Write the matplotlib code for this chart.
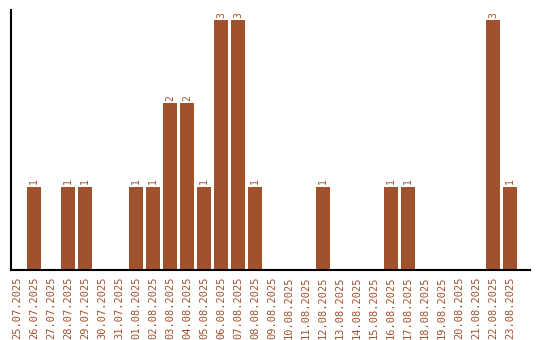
import matplotlib
matplotlib.use("Agg")
import matplotlib.pyplot as plt

dates = ["25.07.2025", "26.07.2025", "27.07.2025", "28.07.2025", "29.07.2025",
         "30.07.2025", "31.07.2025", "01.08.2025", "02.08.2025", "03.08.2025",
         "04.08.2025", "05.08.2025", "06.08.2025", "07.08.2025", "08.08.2025",
         "09.08.2025", "10.08.2025", "11.08.2025", "12.08.2025", "13.08.2025",
         "14.08.2025", "15.08.2025", "16.08.2025", "17.08.2025", "18.08.2025",
         "19.08.2025", "20.08.2025", "21.08.2025", "22.08.2025", "23.08.2025"]
counts = [0, 1, 0, 1, 1, 0, 0, 1, 1, 2, 2, 1, 3, 3, 1, 0, 0, 0, 1, 0,
          0, 0, 1, 1, 0, 0, 0, 0, 3, 1]

color = "#A0522D"
fig = plt.figure(figsize=(5.4, 3.4), dpi=100)
W, H = 540, 340
ax = fig.add_axes([11 / W, 1 - 270 / H, (530 - 11) / W, (270 - 10) / H])
x = list(range(len(dates)))
ax.bar(x, counts, width=0.82, color=color)
for xi, v in zip(x, counts):
    if v > 0:
        ax.text(xi, v + 0.03, str(v), rotation=90, ha="center", va="bottom",
                color=color, fontsize=7, family="DejaVu Sans Mono")
ax.set_xlim(-0.35, 30.18)
ax.set_ylim(0, 3.12)
ax.set_xticks(x)
ax.set_xticklabels(dates, rotation=90, color=color, fontsize=7.5,
                   family="DejaVu Sans Mono")
ax.tick_params(axis="x", length=0, pad=5)
ax.set_yticks([])
for s in ["top", "right"]:
    ax.spines[s].set_visible(False)
ax.spines["left"].set_linewidth(1.5)
ax.spines["bottom"].set_linewidth(1.5)
fig.savefig("out.png", dpi=100)
